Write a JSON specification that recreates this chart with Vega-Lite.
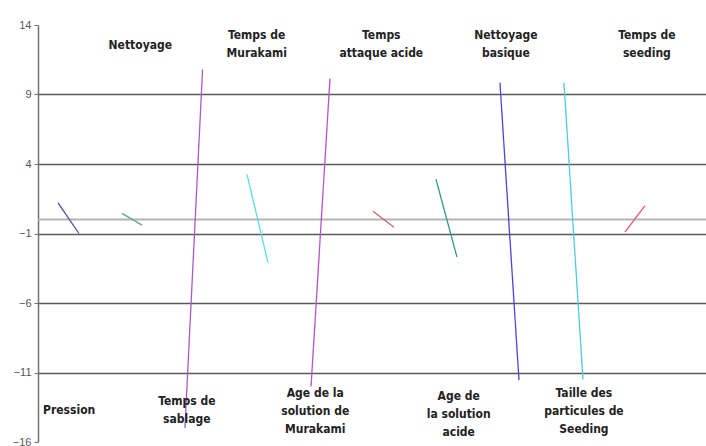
{
  "$schema": "https://vega.github.io/schema/vega-lite/v6.json",
  "width": 668,
  "height": 417,
  "autosize": {"type": "none"},
  "padding": {"left": 38, "top": 25, "right": 0, "bottom": 4},
  "background": "white",
  "config": {"view": {"stroke": null}},
  "datasets": {
    "effects": [
      {"facteur": "Pression", "x": 0.833, "y": 1.2},
      {"facteur": "Pression", "x": 1.167, "y": -1.0},
      {"facteur": "Nettoyage", "x": 1.85, "y": 0.45},
      {"facteur": "Nettoyage", "x": 2.168, "y": -0.4},
      {"facteur": "Temps de sablage", "x": 2.85, "y": -15.0},
      {"facteur": "Temps de sablage", "x": 3.13, "y": 10.8},
      {"facteur": "Temps de Murakami", "x": 3.836, "y": 3.26},
      {"facteur": "Temps de Murakami", "x": 4.17, "y": -3.1},
      {"facteur": "Age de la solution de Murakami", "x": 4.854, "y": -12.0},
      {"facteur": "Age de la solution de Murakami", "x": 5.155, "y": 10.15},
      {"facteur": "Temps attaque acide", "x": 5.838, "y": 0.6},
      {"facteur": "Temps attaque acide", "x": 6.172, "y": -0.55},
      {"facteur": "Age de la solution acide", "x": 6.839, "y": 2.9},
      {"facteur": "Age de la solution acide", "x": 7.173, "y": -2.7},
      {"facteur": "Nettoyage basique", "x": 7.856, "y": 9.85},
      {"facteur": "Nettoyage basique", "x": 8.158, "y": -11.55},
      {"facteur": "Taille des particules de Seeding", "x": 8.873, "y": 9.85},
      {"facteur": "Taille des particules de Seeding", "x": 9.175, "y": -11.5},
      {"facteur": "Temps de seeding", "x": 9.842, "y": -0.9},
      {"facteur": "Temps de seeding", "x": 10.16, "y": 1.0}
    ],
    "labels": [
      {"label": "Pression", "x": 1.01, "y": -13.67},
      {"label": "Nettoyage", "x": 2.14, "y": 12.55},
      {"label": "Temps de\nsablage", "x": 2.88, "y": -13.02},
      {"label": "Temps de\nMurakami", "x": 3.99, "y": 13.27},
      {"label": "Age de la\nsolution de\nMurakami", "x": 4.92, "y": -12.45},
      {"label": "Temps\nattaque acide", "x": 5.97, "y": 13.27},
      {"label": "Age de\nla solution\nacide", "x": 7.2, "y": -12.66},
      {"label": "Nettoyage\nbasique", "x": 7.95, "y": 13.27},
      {"label": "Taille des\nparticules de\nSeeding", "x": 9.19, "y": -12.45},
      {"label": "Temps de\nseeding", "x": 10.19, "y": 13.27}
    ],
    "mean": [{"y": 0}]
  },
  "layer": [
    {
      "data": {"name": "mean"},
      "mark": {"type": "rule", "color": "#b4b4b4", "strokeWidth": 2},
      "encoding": {
        "y": {"field": "y", "type": "quantitative", "scale": {"domain": [-16, 14], "nice": false, "zero": false}}
      }
    },
    {
      "data": {"name": "effects"},
      "mark": {"type": "line", "strokeWidth": 1.3},
      "encoding": {
        "x": {"field": "x", "type": "quantitative", "axis": null, "scale": {"domain": [0.515, 11.13], "nice": false, "zero": false}},
        "y": {
          "field": "y", "type": "quantitative", "title": null,
          "scale": {"domain": [-16, 14], "nice": false, "zero": false},
          "axis": {
            "values": [-16, -11, -6, -1, 4, 9, 14],
            "grid": true,
            "gridColor": "#5a5a5a",
            "gridWidth": 1.5,
            "gridOpacity": {"condition": {"test": "datum.value === 14 || datum.value === -16", "value": 0}, "value": 1},
            "domainColor": "#707070",
            "domainWidth": 1.5,
            "tickColor": "#707070",
            "tickSize": 4,
            "labelFont": "Liberation Sans",
            "labelFontSize": 11,
            "labelColor": "#555555",
            "labelPadding": 3
          }
        },
        "color": {
          "field": "facteur", "type": "nominal", "legend": null,
          "scale": {
            "domain": ["Pression", "Nettoyage", "Temps de sablage", "Temps de Murakami", "Age de la solution de Murakami", "Temps attaque acide", "Age de la solution acide", "Nettoyage basique", "Taille des particules de Seeding", "Temps de seeding"],
            "range": ["#4d4d9f", "#62a88e", "#a65cc4", "#55dde9", "#b453cc", "#b86b6b", "#34998a", "#4747d6", "#4ccbe6", "#e3576f"]
          }
        }
      }
    },
    {
      "data": {"name": "labels"},
      "mark": {"type": "text", "lineBreak": "\n", "font": "DejaVu Sans Condensed", "fontWeight": "bold", "fontSize": 12, "lineHeight": 18, "color": "#222222", "align": "center", "baseline": "middle"},
      "encoding": {
        "x": {"field": "x", "type": "quantitative"},
        "y": {"field": "y", "type": "quantitative"},
        "text": {"field": "label", "type": "nominal"}
      }
    }
  ]
}
